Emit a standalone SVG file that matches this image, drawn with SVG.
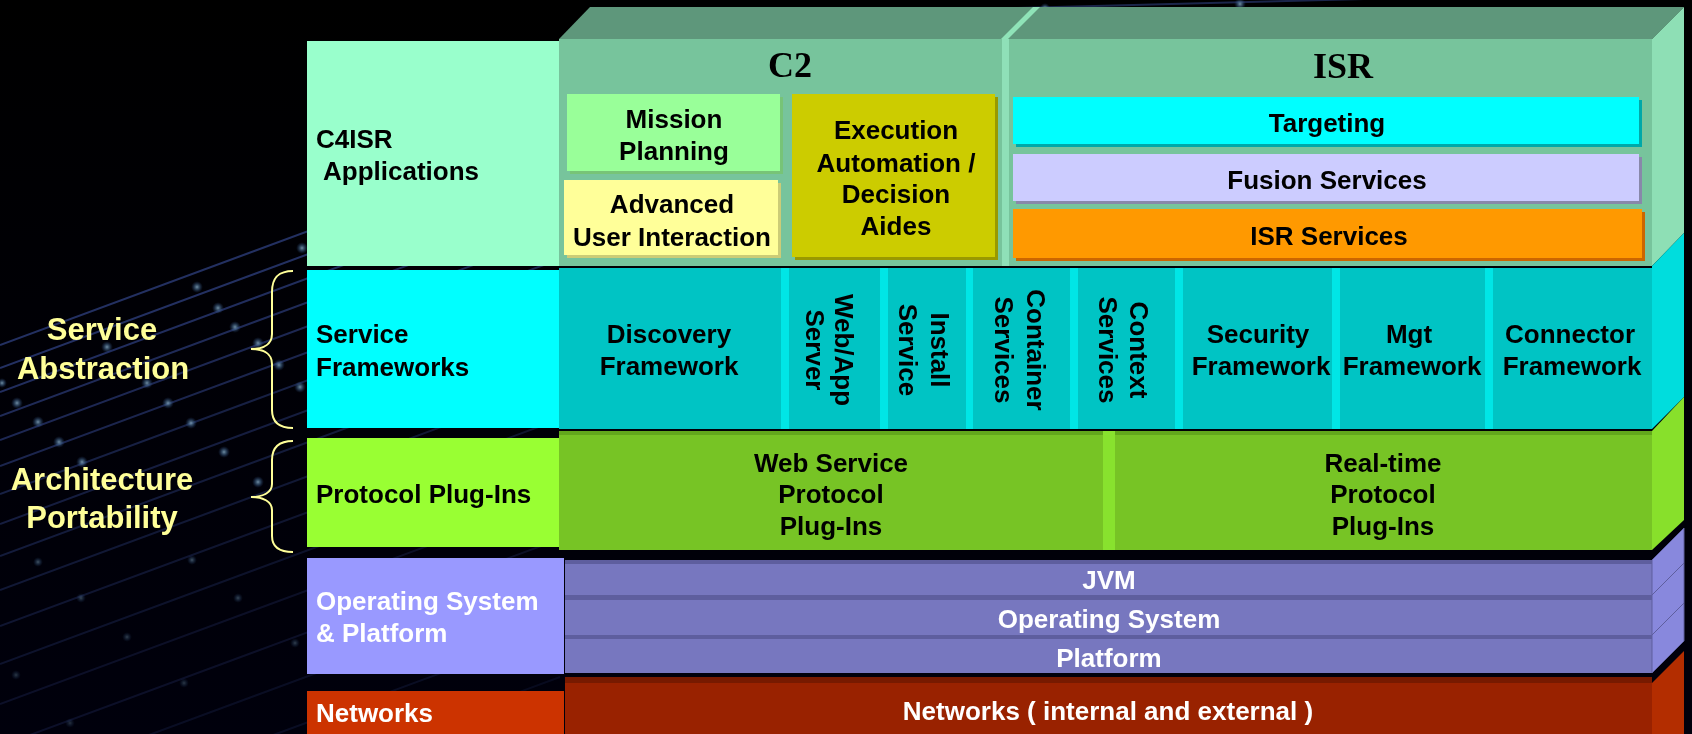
<svg xmlns="http://www.w3.org/2000/svg" width="1692" height="734" viewBox="0 0 1692 734">
<defs>
<style>
.t{font-family:"Liberation Sans",Arial,Helvetica,sans-serif;font-weight:bold;font-size:26px;fill:#000}
.w{fill:#fff}
.c{text-anchor:middle}
.ann{fill:#FFFF99;font-size:31px;text-anchor:middle}
.serif{font-family:"Liberation Serif","Times New Roman",serif;font-weight:bold;font-size:36px;fill:#000;text-anchor:middle}
.bgl{stroke:#34478f;stroke-width:2;fill:none}
.sep{fill:#00E6E6}
.brace{fill:none;stroke:#FFFF99;stroke-width:2}
.pf{fill:#7777BF}
.pt{fill:#5E5E9E}
.pr{fill:#8888DD;stroke:#5E5E9E;stroke-width:1}
</style>
<radialGradient id="dot">
<stop offset="0" stop-color="#a8d4f0" stop-opacity="0.9"/>
<stop offset="0.5" stop-color="#5a8cc0" stop-opacity="0.5"/>
<stop offset="1" stop-color="#2a4a8a" stop-opacity="0"/>
</radialGradient>
<linearGradient id="bgfade" x1="0" y1="0" x2="0" y2="1">
<stop offset="0" stop-color="#000000"/>
<stop offset="1" stop-color="#00000c"/>
</linearGradient>
</defs>
<rect x="0" y="0" width="1692" height="734" fill="url(#bgfade)"/>
<g id="background-trails" opacity="0.75">
<line class="bgl" x1="0" y1="345" x2="560" y2="138" opacity="0.9"/>
<line class="bgl" x1="0" y1="368" x2="560" y2="161" opacity="0.9"/>
<line class="bgl" x1="0" y1="392" x2="560" y2="185" opacity="0.85"/>
<line class="bgl" x1="0" y1="416" x2="560" y2="209" opacity="0.8"/>
<line class="bgl" x1="0" y1="440" x2="560" y2="233" opacity="0.75"/>
<line class="bgl" x1="0" y1="466" x2="560" y2="259" opacity="0.7"/>
<line class="bgl" x1="0" y1="494" x2="560" y2="287" opacity="0.6"/>
<line class="bgl" x1="0" y1="524" x2="560" y2="317" opacity="0.55"/>
<line class="bgl" x1="0" y1="556" x2="560" y2="349" opacity="0.5"/>
<line class="bgl" x1="0" y1="590" x2="560" y2="383" opacity="0.45"/>
<line class="bgl" x1="0" y1="626" x2="560" y2="419" opacity="0.4"/>
<line class="bgl" x1="0" y1="664" x2="560" y2="457" opacity="0.35"/>
<line class="bgl" x1="0" y1="704" x2="560" y2="497" opacity="0.3"/>
<line class="bgl" x1="0" y1="746" x2="560" y2="539" opacity="0.3"/>
<line class="bgl" x1="0" y1="790" x2="560" y2="583" opacity="0.25"/>
<line class="bgl" x1="0" y1="836" x2="560" y2="629" opacity="0.25"/>
<line class="bgl" x1="0" y1="884" x2="560" y2="677" opacity="0.2"/>
<line class="bgl" x1="0" y1="934" x2="560" y2="727" opacity="0.2"/>
<line class="bgl" x1="940" y1="10" x2="1480" y2="-4" opacity="0.7"/>
<circle cx="302" cy="248" r="6" fill="url(#dot)"/>
<circle cx="197" cy="287" r="6" fill="url(#dot)"/>
<circle cx="218" cy="308" r="6" fill="url(#dot)"/>
<circle cx="235" cy="327" r="6" fill="url(#dot)"/>
<circle cx="258" cy="343" r="6" fill="url(#dot)"/>
<circle cx="279" cy="365" r="6" fill="url(#dot)"/>
<circle cx="300" cy="387" r="6" fill="url(#dot)"/>
<circle cx="107" cy="347" r="6" fill="url(#dot)"/>
<circle cx="147" cy="383" r="6" fill="url(#dot)"/>
<circle cx="168" cy="403" r="6" fill="url(#dot)"/>
<circle cx="191" cy="423" r="6" fill="url(#dot)"/>
<circle cx="17" cy="403" r="6" fill="url(#dot)"/>
<circle cx="38" cy="422" r="6" fill="url(#dot)"/>
<circle cx="59" cy="442" r="6" fill="url(#dot)"/>
<circle cx="224" cy="452" r="6" fill="url(#dot)"/>
<circle cx="82" cy="462" r="6" fill="url(#dot)"/>
<circle cx="258" cy="482" r="6" fill="url(#dot)"/>
<circle cx="2" cy="383" r="5" fill="url(#dot)"/>
<circle cx="38" cy="562" r="5" fill="url(#dot)" opacity="0.6"/>
<circle cx="192" cy="560" r="5" fill="url(#dot)" opacity="0.6"/>
<circle cx="81" cy="598" r="5" fill="url(#dot)" opacity="0.5"/>
<circle cx="238" cy="598" r="5" fill="url(#dot)" opacity="0.5"/>
<circle cx="127" cy="637" r="5" fill="url(#dot)" opacity="0.45"/>
<circle cx="295" cy="643" r="5" fill="url(#dot)" opacity="0.45"/>
<circle cx="16" cy="675" r="5" fill="url(#dot)" opacity="0.4"/>
<circle cx="184" cy="683" r="5" fill="url(#dot)" opacity="0.4"/>
<circle cx="70" cy="723" r="5" fill="url(#dot)" opacity="0.35"/>
<circle cx="1240" cy="4" r="6" fill="url(#dot)"/>
<circle cx="1045" cy="8" r="5" fill="url(#dot)"/>
</g>

<g id="row-c4isr-label">
<rect x="307" y="41" width="253" height="225" fill="#99FFCC"/>
<text class="t" x="316" y="148">C4ISR</text>
<text class="t" x="323" y="180">Applications</text>
</g>

<g id="c4isr-block">
<polygon points="559,39 590,7 1684,7 1652,39" fill="#5E977B"/>
<polygon points="1001,39 1033,7 1040,7 1008,39" fill="#8FE3B8"/>
<rect x="559" y="39" width="1093" height="227" fill="#77C49C"/>
<rect x="1002" y="39" width="7" height="227" fill="#8FE0B8"/>
<polygon points="1652,39 1684,7 1684,233 1652,266" fill="#8EDFB5"/>
</g>

<g id="c2">
<text class="serif" x="790" y="77">C2</text>
</g>
<g id="isr">
<text class="serif" x="1343" y="78">ISR</text>
</g>

<g id="mission-planning">
<rect x="570" y="97" width="213" height="77" fill="#77C477"/>
<rect x="567" y="94" width="213" height="77" fill="#99FF99"/>
<text class="t c" x="674" y="128">Mission</text>
<text class="t c" x="674" y="160">Planning</text>
</g>
<g id="advanced-user-interaction">
<rect x="567" y="183" width="214" height="75" fill="#CCCC77"/>
<rect x="564" y="180" width="214" height="75" fill="#FFFF99"/>
<text class="t c" x="672" y="213">Advanced</text>
<text class="t c" x="672" y="246">User Interaction</text>
</g>
<g id="execution-automation">
<rect x="795" y="97" width="203" height="163" fill="#999900"/>
<rect x="792" y="94" width="203" height="163" fill="#CCCC00"/>
<text class="t c" x="896" y="139">Execution</text>
<text class="t c" x="896" y="172">Automation /</text>
<text class="t c" x="896" y="203">Decision</text>
<text class="t c" x="896" y="235">Aides</text>
</g>
<g id="targeting">
<rect x="1016" y="100" width="626" height="47" fill="#00A8A8"/>
<rect x="1013" y="97" width="626" height="47" fill="#00FFFF"/>
<text class="t c" x="1327" y="132">Targeting</text>
</g>
<g id="fusion-services">
<rect x="1016" y="157" width="626" height="47" fill="#8888AA"/>
<rect x="1013" y="154" width="626" height="47" fill="#CCCCFF"/>
<text class="t c" x="1327" y="189">Fusion Services</text>
</g>
<g id="isr-services">
<rect x="1016" y="212" width="629" height="49" fill="#CC6600"/>
<rect x="1013" y="209" width="629" height="49" fill="#FF9900"/>
<text class="t c" x="1329" y="245">ISR Services</text>
</g>

<g id="row-service-label">
<rect x="307" y="270" width="253" height="158" fill="#00FFFF"/>
<text class="t" x="316" y="343">Service</text>
<text class="t" x="316" y="376">Frameworks</text>
</g>
<g id="service-block">
<rect x="559" y="268" width="1093" height="161" fill="#00C4C4"/>
<rect class="sep" x="781" y="268" width="8" height="161"/>
<rect class="sep" x="880" y="268" width="8" height="161"/>
<rect class="sep" x="966" y="268" width="7" height="161"/>
<rect class="sep" x="1070" y="268" width="8" height="161"/>
<rect class="sep" x="1175" y="268" width="8" height="161"/>
<rect class="sep" x="1332" y="268" width="8" height="161"/>
<rect class="sep" x="1485" y="268" width="8" height="161"/>
<polygon points="1652,266 1684,233 1684,397 1652,429" fill="#00DDDD"/>
</g>
<g id="discovery-framework">
<text class="t c" x="669" y="343">Discovery</text>
<text class="t c" x="669" y="375">Framework</text>
</g>
<g id="web-app-server">
<text class="t c" transform="translate(835,350) rotate(90)"><tspan x="0" y="0">Web/App</tspan><tspan x="0" y="29">Server</tspan></text>
</g>
<g id="install-service">
<text class="t c" transform="translate(931,350) rotate(90)"><tspan x="0" y="0">Install</tspan><tspan x="0" y="32">Service</tspan></text>
</g>
<g id="container-services">
<text class="t c" transform="translate(1027,350) rotate(90)"><tspan x="0" y="0">Container</tspan><tspan x="0" y="32">Services</tspan></text>
</g>
<g id="context-services">
<text class="t c" transform="translate(1130,350) rotate(90)"><tspan x="0" y="0">Context</tspan><tspan x="0" y="31">Services</tspan></text>
</g>
<g id="security-framework">
<text class="t c" x="1258" y="343">Security</text>
<text class="t c" x="1261" y="375">Framework</text>
</g>
<g id="mgt-framework">
<text class="t c" x="1409" y="343">Mgt</text>
<text class="t c" x="1412" y="375">Framework</text>
</g>
<g id="connector-framework">
<text class="t c" x="1570" y="343">Connector</text>
<text class="t c" x="1572" y="375">Framework</text>
</g>

<g id="row-protocol-label">
<rect x="307" y="438" width="253" height="109" fill="#99FF33"/>
<text class="t" x="316" y="503">Protocol Plug-Ins</text>
</g>
<g id="protocol-block">
<rect x="559" y="431" width="1093" height="119" fill="#77C425"/>
<rect x="559" y="431" width="1093" height="4" fill="#62A81C"/>
<rect x="1103" y="431" width="12" height="119" fill="#88E22E"/>
<polygon points="1652,431 1684,397 1684,520 1652,550" fill="#88E02B"/>
</g>
<g id="web-service-plugins">
<text class="t c" x="831" y="472">Web Service</text>
<text class="t c" x="831" y="503">Protocol</text>
<text class="t c" x="831" y="535">Plug-Ins</text>
</g>
<g id="realtime-plugins">
<text class="t c" x="1383" y="472">Real-time</text>
<text class="t c" x="1383" y="503">Protocol</text>
<text class="t c" x="1383" y="535">Plug-Ins</text>
</g>

<g id="row-os-label">
<rect x="307" y="558" width="257" height="116" fill="#9999FF"/>
<text class="t w" x="316" y="610">Operating System</text>
<text class="t w" x="316" y="642">&amp; Platform</text>
</g>
<g id="jvm">
<rect class="pt" x="565" y="560" width="1087" height="4"/>
<rect class="pf" x="565" y="564" width="1087" height="31"/>
<polygon class="pr" points="1652,560 1684,528 1684,563 1652,595"/>
<text class="t w c" x="1109" y="589">JVM</text>
</g>
<g id="operating-system">
<rect class="pt" x="565" y="595" width="1087" height="5"/>
<rect class="pf" x="565" y="600" width="1087" height="35"/>
<polygon class="pr" points="1652,595 1684,563 1684,603 1652,635"/>
<text class="t w c" x="1109" y="628">Operating System</text>
</g>
<g id="platform">
<rect class="pt" x="565" y="635" width="1087" height="4"/>
<rect class="pf" x="565" y="639" width="1087" height="34"/>
<polygon class="pr" points="1652,635 1684,603 1684,641 1652,673"/>
<text class="t w c" x="1109" y="667">Platform</text>
</g>

<g id="row-networks-label">
<rect x="307" y="691" width="257" height="43" fill="#CC3300"/>
<text class="t w" x="316" y="722">Networks</text>
</g>
<g id="networks-block">
<rect x="565" y="677" width="1087" height="6" fill="#771A00"/>
<rect x="565" y="683" width="1087" height="51" fill="#992200"/>
<polygon points="1652,683 1684,651 1684,734 1652,734" fill="#B32D00"/>
<text class="t w c" x="1108" y="720">Networks ( internal and external )</text>
</g>

<g id="service-abstraction">
<text class="t ann" x="102" y="340">Service</text>
<text class="t ann" x="103" y="379">Abstraction</text>
</g>
<g id="architecture-portability">
<text class="t ann" x="102" y="490">Architecture</text>
<text class="t ann" x="102" y="528">Portability</text>
</g>

<g id="connectors">
<path class="brace" d="M293,271 C279,271 272,277 272,292 L272,334 C272,344 264,349 251,349 C264,349 272,354 272,364 L272,410 C272,422 279,428 293,428"/>
<path class="brace" d="M293,441 C279,441 272,447 272,460 L272,484 C272,492 264,497 251,497 C264,497 272,502 272,510 L272,536 C272,547 279,552 293,552"/>
</g>
</svg>
